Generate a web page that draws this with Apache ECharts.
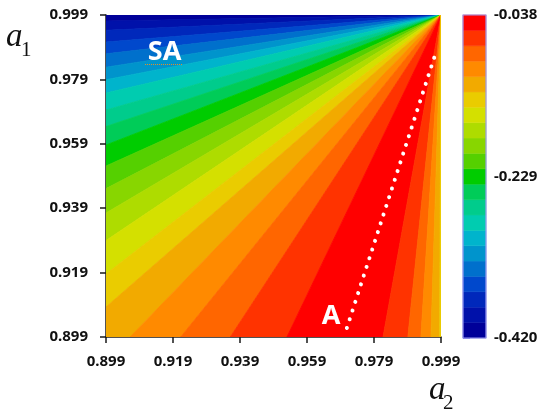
<!DOCTYPE html>
<html><head><meta charset="utf-8">
<script src="https://cdn.jsdelivr.net/npm/echarts@6/dist/echarts.min.js"></script>
<style>html,body{margin:0;padding:0;background:#fff}#c{width:549px;height:409px}</style>
</head><body><div id="c"></div>
<script>
// ---- data ----
const xTickValues = [0.899, 0.919, 0.939, 0.959, 0.979, 0.999];
const yTickValues = [0.899, 0.919, 0.939, 0.959, 0.979, 0.999];
const colorbarTicks = [-0.420, -0.229, -0.038];
// 21 contour levels between -0.420 and -0.038
const levelEdges = [-0.4200, -0.4018, -0.3836, -0.3654, -0.3472, -0.3290, -0.3109, -0.2927,
  -0.2745, -0.2563, -0.2381, -0.2199, -0.2017, -0.1835, -0.1653, -0.1471, -0.1290, -0.1108,
  -0.0926, -0.0744, -0.0562, -0.0380];
const bandColors = ['#000099', '#0011aa', '#0028bb', '#0048cc', '#0070cc', '#0094cc', '#00b4cc',
  '#00ccb0', '#00cc8c', '#00cc58', '#00cc00', '#55d000', '#88d600', '#aedc00', '#d4e000',
  '#eacc00', '#f2aa00', '#ff8a00', '#ff6600', '#ff3300', '#ff0000'];
// contour band boundaries where they meet the left edge (a2 = 0.899), in a1
const leftBoundsA1 = [0.99714, 0.99425, 0.99061, 0.98695, 0.98279, 0.97891, 0.97478, 0.96950,
  0.96437, 0.95863, 0.95211, 0.94509, 0.93751, 0.92897, 0.91857, 0.90832];
const leftBands = [0, 1, 2, 3, 4, 5, 6, 7, 8, 9, 10, 11, 12, 13, 14, 15, 16];
// contour band boundaries where they meet the bottom edge (a1 = 0.899), in a2
const bottomBoundsA2 = [0.9062, 0.9213, 0.9361, 0.9530, 0.9817, 0.9891, 0.9930, 0.9960, 0.9986];
const bottomBands = [16, 17, 18, 19, 20, 19, 18, 17, 16, 15];
const rayOrigin = [0.999, 0.999];
const dottedPath = [[0.9709, 0.9018], [0.9978, 0.9884]];
const annotations = [[0.9165, 0.9874, 'SA'], [0.9662, 0.9054, 'A']];

// ---- build contour polygons ----
const perim = [[0.899, 0.999]].concat(
  leftBoundsA1.map(v => [0.899, v]),
  bottomBoundsA2.map(v => [v, 0.899]),
  [[0.999, 0.899]]);
const segBands = leftBands.concat(bottomBands.slice(1));
const polys = [];
for (let i = 0; i < segBands.length; i++) {
  const p0 = perim[i], p1 = perim[i + 1];
  const pts = [rayOrigin, p0];
  if (p0[0] === 0.899 && p1[1] === 0.899 && p1[0] !== 0.899) pts.push([0.899, 0.899]);
  pts.push(p1);
  polys.push({ band: segBands[i], pts });
}

const tickFont = { fontFamily: 'Noto Sans', fontWeight: 'bold', fontSize: 15, color: '#111' };
const axisCol = '#1a1a1a';
const lav = '#9c9cf2';

const chart = echarts.init(document.getElementById('c'), null, { renderer: 'canvas' });
chart.setOption({
  animation: false,
  backgroundColor: '#fff',
  grid: [
    { left: 106, top: 15, width: 335, height: 322 },
    { left: 463, top: 15, width: 23, height: 323 }
  ],
  xAxis: [
    { gridIndex: 0, type: 'value', min: 0.899, max: 0.999,
      axisLine: { show: true, onZero: false, lineStyle: { color: axisCol, width: 1.5 } },
      axisTick: { show: true, length: 6, customValues: xTickValues, lineStyle: { color: axisCol, width: 1.5 } },
      axisLabel: Object.assign({ customValues: xTickValues, margin: 17, formatter: v => v.toFixed(3) }, tickFont),
      splitLine: { show: false } },
    { gridIndex: 1, type: 'value', min: 0, max: 1, show: false }
  ],
  yAxis: [
    { gridIndex: 0, type: 'value', min: 0.899, max: 0.999,
      axisLine: { show: true, onZero: false, lineStyle: { color: axisCol, width: 1.5 } },
      axisTick: { show: true, length: 6, customValues: yTickValues, lineStyle: { color: axisCol, width: 1.5 } },
      axisLabel: Object.assign({ customValues: yTickValues, margin: 18, formatter: v => v.toFixed(3) }, tickFont),
      splitLine: { show: false } },
    { gridIndex: 1, type: 'value', min: -0.420, max: -0.038, position: 'right',
      axisLine: { show: false },
      axisTick: { show: true, length: 7, customValues: colorbarTicks, lineStyle: { color: lav, width: 1 } },
      axisLabel: Object.assign({ customValues: colorbarTicks, margin: 8, formatter: v => v.toFixed(3),
        showMinLabel: true, showMaxLabel: true }, tickFont),
      splitLine: { show: false } }
  ],
  series: [
    { type: 'custom', xAxisIndex: 0, yAxisIndex: 0, clip: true, silent: true,
      data: polys.map(p => [p.pts[1][0], p.pts[1][1], p.band]),
      encode: { x: 0, y: 1 },
      renderItem: function (params, api) {
        const p = polys[params.dataIndex];
        const c = bandColors[p.band];
        return { type: 'polygon', shape: { points: p.pts.map(q => api.coord(q)) },
          style: { fill: c, stroke: c, lineWidth: 0.8 } };
      } },
    { type: 'line', xAxisIndex: 0, yAxisIndex: 0, data: dottedPath, symbol: 'none', silent: true, z: 5,
      lineStyle: { color: '#fff', width: 4, type: [0.01, 9.15], cap: 'round' } },
    { type: 'scatter', xAxisIndex: 0, yAxisIndex: 0, data: annotations, symbolSize: 0, silent: true, z: 6,
      itemStyle: { opacity: 1 },
      label: { show: true, position: 'inside', formatter: p => p.data[2], color: '#fff', opacity: 1,
        fontFamily: 'Noto Sans', fontWeight: 'bold', fontSize: 27 } },
    { type: 'custom', xAxisIndex: 1, yAxisIndex: 1, silent: true,
      data: bandColors.map((c, i) => [0, levelEdges[i], levelEdges[i + 1], i]),
      encode: { x: 0, y: [1, 2] },
      renderItem: function (params, api) {
        const a = api.coord([0, api.value(1)]);
        const b = api.coord([1, api.value(2)]);
        const c = bandColors[api.value(3)];
        return { type: 'rect', shape: { x: a[0], y: b[1], width: b[0] - a[0], height: a[1] - b[1] },
          style: { fill: c, stroke: c, lineWidth: 0.5 } };
      } },
    { type: 'custom', xAxisIndex: 1, yAxisIndex: 1, silent: true, z: 4,
      data: [[0, -0.420, 1, -0.038]],
      encode: { x: [0, 2], y: [1, 3] },
      renderItem: function (params, api) {
        const a = api.coord([api.value(0), api.value(1)]);
        const b = api.coord([api.value(2), api.value(3)]);
        return { type: 'rect', shape: { x: a[0], y: b[1], width: b[0] - a[0], height: a[1] - b[1] },
          style: { fill: null, stroke: lav, lineWidth: 1.2 } };
      } }
  ],
  graphic: [
    { type: 'text', x: 6, y: 37, style: { text: 'a', font: 'italic 33px "Liberation Serif"', fill: '#111', verticalAlign: 'middle' } },
    { type: 'text', x: 21, y: 50, style: { text: '1', font: '21px "Liberation Serif"', fill: '#111', verticalAlign: 'middle' } },
    { type: 'text', x: 429, y: 390, style: { text: 'a', font: 'italic 33px "Liberation Serif"', fill: '#111', verticalAlign: 'middle' } },
    { type: 'text', x: 443, y: 403, style: { text: '2', font: '21px "Liberation Serif"', fill: '#111', verticalAlign: 'middle' } },
    { type: 'line', shape: { x1: 145, y1: 64.5, x2: 182, y2: 64.5 }, style: { stroke: '#e0902a', lineWidth: 1, lineDash: [1, 1] }, z: 10 }
  ]
});
</script></body></html>
